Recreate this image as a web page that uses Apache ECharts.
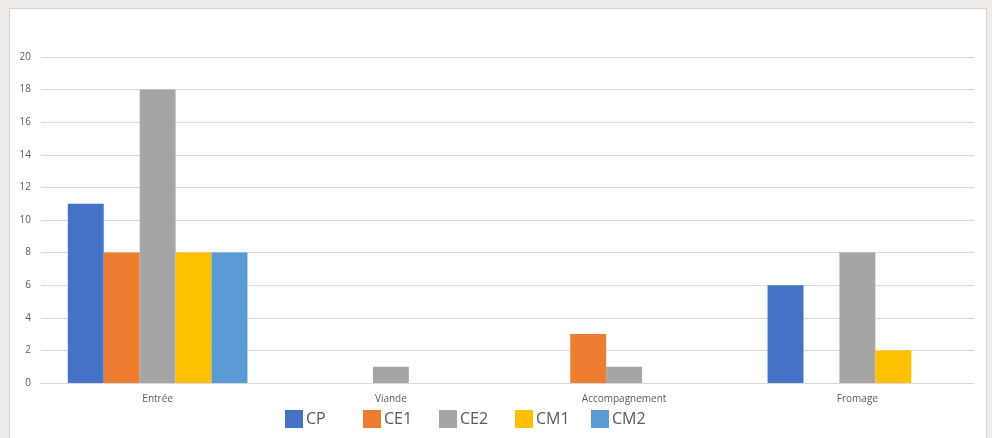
<!DOCTYPE html>
<html><head><meta charset="utf-8">
<script src="https://cdn.jsdelivr.net/npm/echarts@6/dist/echarts.min.js"></script>
<style>
html,body{margin:0;padding:0;background:#efebe6;width:992px;height:438px;overflow:hidden;}
#panel{position:absolute;left:9px;top:8px;width:978px;height:440px;background:#fff;border:1px solid #d6d3cf;box-sizing:border-box;}
#chart{position:absolute;left:0;top:0;width:992px;height:438px;}
</style></head>
<body>
<div id="panel"></div>
<div id="chart"></div>
<script>
const categories = ['Entrée', 'Viande', 'Accompagnement', 'Fromage'];
const seriesNames = ['CP', 'CE1', 'CE2', 'CM1', 'CM2'];
const CP  = [11, 0, 0, 6];
const CE1 = [8, 0, 3, 0];
const CE2 = [18, 1, 1, 8];
const CM1 = [8, 0, 0, 2];
const CM2 = [8, 0, 0, 0];
const values = [CP, CE1, CE2, CM1, CM2];
const colors = ['#4472C4', '#ED7D31', '#A5A5A5', '#FFC000', '#5B9BD5'];
const legendLeft = [285, 363, 439, 515, 591];

const chart = echarts.init(document.getElementById('chart'), null, {renderer: 'canvas'});
chart.setOption({
  animation: false,
  backgroundColor: 'transparent',
  color: colors,
  textStyle: {fontFamily: 'Open Sans, Liberation Sans, sans-serif', color: '#595959'},
  grid: {left: 41, right: 18, top: 57, bottom: 55, containLabel: false},
  legend: seriesNames.map((n, i) => ({
    data: [n],
    left: legendLeft[i], top: 410, padding: 0,
    itemWidth: 18, itemHeight: 18,
    icon: 'rect',
    textStyle: {fontSize: 16, color: '#595959', padding: [0, 0, 0, -2]}
  })),
  xAxis: {
    type: 'category', data: categories,
    axisLine: {lineStyle: {color: '#d9d9d9', width: 1}},
    axisTick: {show: false},
    axisLabel: {fontSize: 10, color: '#595959', margin: 11}
  },
  yAxis: {
    type: 'value', min: 0, max: 20, interval: 2,
    axisLine: {show: false}, axisTick: {show: false},
    axisLabel: {fontSize: 10, color: '#595959', margin: 10},
    splitLine: {lineStyle: {color: '#d9d9d9', width: 1}}
  },
  series: seriesNames.map((n, i) => ({
    name: n, type: 'bar', data: values[i],
    barGap: '0%', barCategoryGap: '23%'
  }))
});
</script>
</body></html>
